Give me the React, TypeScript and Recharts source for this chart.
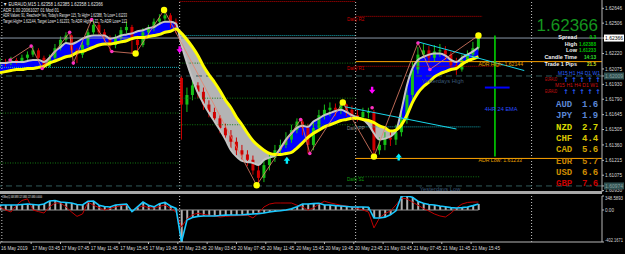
import React from 'react';
import {
  ComposedChart, Bar, Line, Area, Scatter, XAxis, YAxis, ReferenceLine, ReferenceDot,
} from 'recharts';

// EURAUD M15, 16-21 May 2019. One row per 3 M15 bars; t = bar index from the left edge.
const openP = [
  1.6212, 1.6214, 1.6213, 1.6216, 1.6214, 1.6218, 1.6221, 1.6225, 1.6218, 1.6210, 1.6218,
  1.6227, 1.6235, 1.6239, 1.6225, 1.6221, 1.6230, 1.6242, 1.6249, 1.6242, 1.6237, 1.6230,
  1.6237, 1.6244, 1.6247, 1.6235, 1.6230, 1.6242, 1.6246, 1.6252, 1.6255, 1.6258, 1.6252,
  1.6199, 1.6174, 1.6183, 1.6192, 1.6186, 1.6174, 1.6167, 1.6161, 1.6152, 1.6145, 1.6139,
  1.6131, 1.6127, 1.6122, 1.6112, 1.6105, 1.6117, 1.6124, 1.6131, 1.6136, 1.6141, 1.6150,
  1.6158, 1.6152, 1.6136, 1.6152, 1.6164, 1.6169, 1.6171, 1.6169, 1.6174, 1.6169, 1.6164,
  1.6162, 1.6167, 1.6167, 1.6131, 1.6136, 1.6143, 1.6141, 1.6148, 1.6160, 1.6183, 1.6207,
  1.6221, 1.6225, 1.6218, 1.6224, 1.6225, 1.6221, 1.6211, 1.6207, 1.6216, 1.6221, 1.6227,
];
const closeP = [
  1.6214, 1.6213, 1.6216, 1.6214, 1.6218, 1.6221, 1.6225, 1.6218, 1.6210, 1.6218, 1.6227,
  1.6235, 1.6239, 1.6225, 1.6221, 1.6230, 1.6242, 1.6249, 1.6242, 1.6237, 1.6230, 1.6237,
  1.6244, 1.6247, 1.6235, 1.6230, 1.6242, 1.6246, 1.6252, 1.6255, 1.6258, 1.6252, 1.6247,
  1.6174, 1.6183, 1.6192, 1.6186, 1.6174, 1.6167, 1.6161, 1.6152, 1.6145, 1.6139, 1.6131,
  1.6127, 1.6122, 1.6112, 1.6105, 1.6117, 1.6124, 1.6131, 1.6136, 1.6141, 1.6150, 1.6158,
  1.6152, 1.6136, 1.6152, 1.6164, 1.6169, 1.6171, 1.6169, 1.6174, 1.6169, 1.6164, 1.6162,
  1.6167, 1.6167, 1.6131, 1.6136, 1.6143, 1.6141, 1.6148, 1.6160, 1.6183, 1.6207, 1.6221,
  1.6225, 1.6218, 1.6224, 1.6225, 1.6221, 1.6211, 1.6207, 1.6216, 1.6221, 1.6227, 1.6237,
];
const highP = [
  1.6218, 1.6217, 1.6219, 1.6218, 1.6221, 1.6224, 1.6229, 1.6227, 1.6220, 1.6221, 1.6231,
  1.6238, 1.6242, 1.6240, 1.6227, 1.6233, 1.6245, 1.6254, 1.6252, 1.6245, 1.6239, 1.6240,
  1.6247, 1.6252, 1.6249, 1.6239, 1.6246, 1.6249, 1.6255, 1.6259, 1.6263, 1.6260, 1.6255,
  1.6201, 1.6190, 1.6198, 1.6195, 1.6190, 1.6178, 1.6171, 1.6164, 1.6156, 1.6150, 1.6143,
  1.6136, 1.6131, 1.6126, 1.6117, 1.6122, 1.6129, 1.6136, 1.6141, 1.6148, 1.6155, 1.6161,
  1.6160, 1.6156, 1.6158, 1.6169, 1.6174, 1.6176, 1.6175, 1.6176, 1.6175, 1.6173, 1.6169,
  1.6171, 1.6171, 1.6169, 1.6143, 1.6148, 1.6150, 1.6155, 1.6167, 1.6190, 1.6214, 1.6228,
  1.6231, 1.6229, 1.6230, 1.6231, 1.6229, 1.6224, 1.6218, 1.6221, 1.6225, 1.6233, 1.6239,
];
const lowP = [
  1.6209, 1.6210, 1.6211, 1.6212, 1.6213, 1.6216, 1.6219, 1.6215, 1.6208, 1.6209, 1.6216,
  1.6225, 1.6232, 1.6220, 1.6213, 1.6218, 1.6228, 1.6240, 1.6239, 1.6233, 1.6224, 1.6227,
  1.6234, 1.6241, 1.6222, 1.6225, 1.6228, 1.6239, 1.6243, 1.6249, 1.6253, 1.6246, 1.6241,
  1.6141, 1.6167, 1.6178, 1.6180, 1.6169, 1.6162, 1.6157, 1.6147, 1.6140, 1.6133, 1.6126,
  1.6122, 1.6116, 1.6108, 1.6097, 1.6101, 1.6112, 1.6120, 1.6127, 1.6133, 1.6138, 1.6147,
  1.6145, 1.6128, 1.6131, 1.6148, 1.6160, 1.6163, 1.6163, 1.6165, 1.6163, 1.6160, 1.6158,
  1.6159, 1.6161, 1.6124, 1.6127, 1.6131, 1.6135, 1.6136, 1.6144, 1.6156, 1.6178, 1.6203,
  1.6218, 1.6213, 1.6214, 1.6219, 1.6216, 1.6207, 1.6202, 1.6205, 1.6213, 1.6218, 1.6225,
];
// yellow slow average and the faster average that bounds the blue / grey band
const slowMa = [
  1.6204, 1.6205, 1.6206, 1.6207, 1.6207, 1.6208, 1.6208, 1.6209, 1.6210, 1.6213, 1.6215,
  1.6217, 1.6219, 1.6220, 1.6223, 1.6224, 1.6226, 1.6228, 1.6230, 1.6231, 1.6231, 1.6232,
  1.6233, 1.6234, 1.6236, 1.6237, 1.6237, 1.6238, 1.6239, 1.6240, 1.6242, 1.6243, 1.6245,
  1.6241, 1.6235, 1.6228, 1.6220, 1.6210, 1.6202, 1.6195, 1.6187, 1.6178, 1.6171, 1.6162,
  1.6155, 1.6147, 1.6140, 1.6135, 1.6131, 1.6128, 1.6127, 1.6127, 1.6128, 1.6129, 1.6133,
  1.6138, 1.6143, 1.6147, 1.6150, 1.6153, 1.6155, 1.6157, 1.6159, 1.6160, 1.6161, 1.6161,
  1.6160, 1.6159, 1.6157, 1.6154, 1.6152, 1.6149, 1.6150, 1.6155, 1.6164, 1.6176, 1.6185,
  1.6191, 1.6195, 1.6200, 1.6203, 1.6205, 1.6207, 1.6208, 1.6212, 1.6215, 1.6217, 1.6219,
];
const fastMa = [
  1.6213, 1.6213, 1.6214, 1.6214, 1.6214, 1.6215, 1.6216, 1.6216, 1.6214, 1.6218, 1.6224,
  1.6228, 1.6232, 1.6231, 1.6233, 1.6236, 1.6238, 1.6239, 1.6239, 1.6239, 1.6236, 1.6237,
  1.6239, 1.6240, 1.6241, 1.6243, 1.6244, 1.6246, 1.6247, 1.6250, 1.6252, 1.6252, 1.6250,
  1.6230, 1.6213, 1.6198, 1.6185, 1.6175, 1.6166, 1.6158, 1.6150, 1.6141, 1.6131, 1.6125,
  1.6121, 1.6120, 1.6119, 1.6117, 1.6122, 1.6124, 1.6126, 1.6133, 1.6141, 1.6147, 1.6152,
  1.6154, 1.6153, 1.6158, 1.6161, 1.6164, 1.6166, 1.6168, 1.6169, 1.6167, 1.6164, 1.6162,
  1.6160, 1.6155, 1.6147, 1.6141, 1.6142, 1.6144, 1.6149, 1.6169, 1.6192, 1.6208, 1.6216,
  1.6219, 1.6221, 1.6222, 1.6222, 1.6220, 1.6216, 1.6214, 1.6218, 1.6221, 1.6224, 1.6228,
];
// lower window oscillator
const cmiMain = [
  63, 63, 63, 63, 70, 75, 70, 63, 75, 113, 120,
  100, 95, 88, 70, 63, 110, 113, 60, 45, 38, 63,
  70, 75, -20, 40, 100, 60, 40, 80, 95, 50, 20,
  -402, -126, -95, -80, -75, -75, -75, -70, -65, -63, -63,
  -60, -55, -50, -45, -38, -25, -15, -10, 0, 15, 40,
  75, 75, 80, 85, 63, 63, 55, 50, 45, 38, 38,
  38, 35, -100, -100, -90, -60, -10, 176, 176, 160, 110,
  85, 70, 63, 50, 40, 30, 25, 30, 38, 55, 75,
];
const cmiSignal = [
  38, 0, -25, 60, 120, 140, 0, -20, -38, 40, 88,
  88, 40, -25, -80, -50, 100, 60, 30, 0, 20, 38,
  55, 63, -13, 30, 50, 30, 25, 45, 63, 20, -25,
  -215, -110, -60, -40, -55, -65, -75, -88, -80, -75, -72,
  -70, -65, -100, -40, 38, 75, 88, 88, 88, 88, 60,
  38, 0, 25, 75, 110, 90, 75, 60, 50, 38, 20,
  0, -25, -225, -100, -45, -13, 63, 150, 140, 100, 60,
  20, -13, -50, -75, -88, -40, 25, 75, 95, 100, 100,
];

// zigzag pivots (bar index, price, large yellow marker)
const pivotBars = [5.5, 17, 23, 38, 40, 50, 61, 74, 89.5, 140, 164, 169, 187, 204, 228, 234.5, 261];
const pivotPrices = [1.6216, 1.6229, 1.6208, 1.6242, 1.6213, 1.6254, 1.6224, 1.6222, 1.6263, 1.6098, 1.616, 1.6128, 1.6176, 1.6125, 1.6232, 1.6207, 1.6239];
const pivotMajor = [false, false, false, false, false, false, false, true, true, true, false, false, true, true, false, false, true];

const downArrowBars = [98, 203];
const downArrowPrices = [1.6225, 1.6187];
const upArrowBars = [156.5, 217.5];
const upArrowPrices = [1.6122, 1.6125];

const timeTicks = [0, 17, 33, 49, 65, 81, 97, 113, 129, 145, 161, 177, 193, 209, 225, 241, 257];
const timeLabels = [
  '16 May 2019', '17 May 03:45', '17 May 07:45', '17 May 11:45', '17 May 15:45', '17 May 19:45',
  '17 May 23:45', '20 May 03:45', '20 May 07:45', '20 May 11:45', '20 May 15:45', '20 May 19:45',
  '20 May 23:45', '21 May 03:45', '21 May 07:45', '21 May 11:45', '21 May 15:45',
];
const dayBreaks = [1, 98, 194, 290];

const priceTicks = [1.62646, 1.62506, 1.62366, 1.6222, 1.62075, 1.6193, 1.6179, 1.61645, 1.61505, 1.6136, 1.61215, 1.61075, 1.6093];
const BID = 1.62366;
const YDAY_HIGH = 1.62009;
const YDAY_LOW = 1.60974;
const ADR_HIGH = 1.62144;
const ADR_LOW = 1.61233;

const oscTicks = [176, 0, -402.1671];
const oscTickLabels = ['348.5893', '0.00', '-402.1671'];

const strengthCcy = ['AUD', 'JPY', 'NZD', 'CHF', 'CAD', 'EUR', 'USD', 'GBP'];
const strengthVal = ['1.6', '1.9', '2.7', '4.4', '5.6', '5.7', '6.6', '7.6'];
const strengthCol = ['#5b86d6', '#5b86d6', '#d8d800', '#d8c400', '#d0a400', '#c88400', '#d08c00', '#c80000'];

const rows = openP.map((o, i) => {
  const slow = slowMa[i];
  const fast = fastMa[i];
  return {
    t: i * 3,
    o, h: highP[i], l: lowP[i], c: closeP[i],
    slow, fast,
    up: [slow, Math.max(slow, fast)],
    dn: [Math.min(slow, fast), slow],
    cmi: cmiMain[i],
    sig: cmiSignal[i],
  };
});
const pivots = pivotBars.map((t, i) => ({ t, p: pivotPrices[i], major: pivotMajor[i] }));
const downArrows = downArrowBars.map((t, i) => ({ t, p: downArrowPrices[i] }));
const upArrows = upArrowBars.map((t, i) => ({ t, p: upArrowPrices[i] }));

const X_DOMAIN: [number, number] = [0, 328.4];
const FONT = 'Liberation Sans, Arial, sans-serif';
const AXIS = '#b8b8b8';

function Candle(props: any) {
  const { x, y, width, height, payload } = props;
  if (!payload || y == null) return null;
  const top = Math.min(y, y + height);
  const hh = Math.abs(height);
  const span = payload.h - payload.l || 1;
  const py = (v: number) => top + ((payload.h - v) / span) * hh;
  const col = payload.c >= payload.o ? '#16c016' : '#d00000';
  const cx = x + width / 2;
  const b1 = py(Math.max(payload.o, payload.c));
  const b2 = py(Math.min(payload.o, payload.c));
  return (
    <g>
      <line x1={cx} x2={cx} y1={top} y2={top + hh} stroke={col} strokeWidth={1} />
      <rect x={cx - 1.5} y={b1} width={3} height={Math.max(1, b2 - b1)} fill={col} />
    </g>
  );
}

function PivotDot(props: any) {
  const { cx, cy, payload } = props;
  if (payload.major) return <circle cx={cx} cy={cy} r={3.2} fill="#ffff00" />;
  return <circle cx={cx} cy={cy} r={1.8} fill="#ff30c0" />;
}

function DownArrow(props: any) {
  const { cx, cy } = props;
  return <path d={`M${cx - 1.2},${cy - 4} h2.4 v3 h2 l-3.2,4 l-3.2,-4 h2 z`} fill="#ff00ff" />;
}

function UpArrow(props: any) {
  const { cx, cy } = props;
  return <path d={`M${cx - 1.2},${cy + 4} h2.4 v-3 h2 l-3.2,-4 l-3.2,4 h2 z`} fill="#00f0ff" />;
}

const tag = (text: string, color: string, size: number) => (p: any) => (
  <text x={p.cx} y={p.cy} fill={color} fontSize={size} fontFamily={FONT} dominantBaseline="middle">{text}</text>
);

function PriceTick(props: any) {
  const { x, y, payload } = props;
  const v = payload.value;
  const label = v.toFixed(5);
  if (v === BID) {
    return (
      <g>
        <rect x={x - 1} y={y - 3.5} width={20} height={7} fill="#ffffff" />
        <text x={x} y={y} dy={1.8} fontSize={4.8} fontFamily={FONT} fill="#000" textLength={18} lengthAdjust="spacingAndGlyphs">{label}</text>
      </g>
    );
  }
  if (v === YDAY_HIGH || v === YDAY_LOW) {
    return (
      <g>
        <rect x={x - 1} y={y - 3.5} width={20} height={7} fill="#2f5050" />
        <text x={x} y={y} dy={1.8} fontSize={4.8} fontFamily={FONT} fill="#8aa0a0" textLength={18} lengthAdjust="spacingAndGlyphs">{label}</text>
      </g>
    );
  }
  return <text x={x} y={y} dy={1.8} fontSize={4.8} fontFamily={FONT} fill="#d8d8d8" textLength={17} lengthAdjust="spacingAndGlyphs">{label}</text>;
}

function OscTick(props: any) {
  const { x, y, payload } = props;
  const label = oscTickLabels[oscTicks.indexOf(payload.value)];
  const dy = payload.value > 0 ? 3.5 : payload.value < 0 ? -0.5 : 1.8;
  return <text x={x} y={y} dy={dy} fontSize={4.6} fontFamily={FONT} fill="#d8d8d8" textLength={label.length > 5 ? 18 : 9} lengthAdjust="spacingAndGlyphs">{label}</text>;
}

function TimeTick(props: any) {
  const { x, y, payload } = props;
  const label = timeLabels[timeTicks.indexOf(payload.value)];
  return <text x={x + 1} y={y + 4} fontSize={4.6} fontFamily={FONT} fill="#d8d8d8">{label}</text>;
}

function MainPanel() {
  return (
    <ComposedChart width={625} height={192} data={rows} margin={{ top: 0, right: 0, bottom: 0, left: 0 }}>
      <XAxis type="number" dataKey="t" domain={X_DOMAIN} hide allowDataOverflow />
      <YAxis
        orientation="right" width={23} domain={[1.60917, 1.62724]} allowDataOverflow
        ticks={[...priceTicks, YDAY_HIGH, YDAY_LOW]} interval={0} tick={<PriceTick />}
        tickSize={2} tickMargin={1} axisLine={{ stroke: AXIS }} tickLine={{ stroke: AXIS }}
      />
      {dayBreaks.map((b) => (
        <ReferenceLine key={b} x={b} stroke="#c8c8c8" strokeDasharray="1 2" />
      ))}
      <ReferenceLine y={YDAY_HIGH} stroke="#2f5a5a" strokeDasharray="6 4" />
      <ReferenceLine y={YDAY_LOW} stroke="#2f5a5a" strokeDasharray="6 4" />
      <ReferenceLine segment={[{ x: 0, y: 1.6209 }, { x: 98, y: 1.6209 }]} stroke="#14a8b4" strokeDasharray="1 1" />
      <ReferenceLine segment={[{ x: 98, y: 1.6239 }, { x: 194, y: 1.6239 }]} stroke="#14a8b4" strokeDasharray="1 1" />
      <ReferenceLine segment={[{ x: 0, y: 1.6166 }, { x: 98, y: 1.6166 }]} stroke="#127a12" strokeDasharray="1 1.5" />
      <ReferenceLine segment={[{ x: 0, y: 1.6119 }, { x: 98, y: 1.6119 }]} stroke="#127a12" strokeDasharray="1 1.5" />
      <ReferenceLine segment={[{ x: 98, y: 1.6213 }, { x: 194, y: 1.6213 }]} stroke="#127a12" strokeDasharray="1 1.5" />
      <ReferenceLine segment={[{ x: 98, y: 1.618 }, { x: 194, y: 1.618 }]} stroke="#127a12" strokeDasharray="1 1.5" />
      <ReferenceLine segment={[{ x: 98, y: 1.6155 }, { x: 194, y: 1.6155 }]} stroke="#127a12" strokeDasharray="1 1.5" />
      <ReferenceLine segment={[{ x: 98, y: 1.6271 }, { x: 194, y: 1.6271 }]} stroke="#c00000" strokeDasharray="1 1" />
      <ReferenceLine segment={[{ x: 194, y: 1.6257 }, { x: 263, y: 1.6257 }]} stroke="#c00000" strokeDasharray="1 1" />
      <ReferenceLine segment={[{ x: 194, y: 1.621 }, { x: 273, y: 1.621 }]} stroke="#c00000" strokeDasharray="1 1" />
      <ReferenceLine segment={[{ x: 194, y: 1.6153 }, { x: 262, y: 1.6153 }]} stroke="#14a8b4" strokeDasharray="1 1" />
      <ReferenceLine segment={[{ x: 194, y: 1.6106 }, { x: 262, y: 1.6106 }]} stroke="#127a12" strokeDasharray="1 1.5" />
      <ReferenceLine segment={[{ x: 194, y: ADR_HIGH }, { x: 328.4, y: ADR_HIGH }]} stroke="#ffa500" />
      <ReferenceLine segment={[{ x: 194, y: ADR_LOW }, { x: 328.4, y: ADR_LOW }]} stroke="#ffa500" />
      <ReferenceLine y={BID} stroke="#8a97a8" />

      <Area type="monotone" dataKey="dn" stroke="none" fill="#b4b4b4" fillOpacity={1} dot={false} activeDot={false} isAnimationActive={false} />
      <Area type="monotone" dataKey="up" stroke="none" fill="#0000ff" fillOpacity={1} dot={false} activeDot={false} isAnimationActive={false} />
      <Bar dataKey={(d: any) => [d.l, d.h]} barSize={3} shape={<Candle />} activeBar={false} isAnimationActive={false} />
      <Line type="monotone" dataKey="fast" stroke="#c4c4c4" strokeWidth={2} dot={false} activeDot={false} isAnimationActive={false} />
      <Line type="monotone" dataKey="slow" stroke="#ffff00" strokeWidth={3} dot={false} activeDot={false} isAnimationActive={false} />

      <Scatter data={pivots} dataKey="p" line={{ stroke: '#e8826a', strokeWidth: 0.8 }} shape={<PivotDot />} isAnimationActive={false} />
      <ReferenceDot x={203} y={1.6171} r={1.8} fill="#ff30c0" stroke="none" />
      <Scatter data={downArrows} dataKey="p" shape={<DownArrow />} isAnimationActive={false} />
      <Scatter data={upArrows} dataKey="p" shape={<UpArrow />} isAnimationActive={false} />

      <ReferenceLine segment={[{ x: 188, y: 1.6172 }, { x: 249, y: 1.6151 }]} stroke="#18d8ec" />
      <ReferenceLine segment={[{ x: 228, y: 1.6233 }, { x: 286, y: 1.6206 }]} stroke="#18d8ec" />
      <ReferenceLine segment={[{ x: 270, y: 1.6239 }, { x: 270, y: 1.6125 }]} stroke="#00e000" strokeWidth={1.5} />
      <ReferenceLine segment={[{ x: 264.5, y: 1.619 }, { x: 278, y: 1.619 }]} stroke="#0000ff" strokeWidth={2} />

      <ReferenceDot x={189.3} y={1.6254} shape={tag('Daily R2', '#d00000', 4.6)} />
      <ReferenceDot x={189.3} y={1.6208} shape={tag('Daily R1', '#d00000', 4.6)} />
      <ReferenceDot x={189.3} y={1.6151} shape={tag('Daily PP', '#8a8a8a', 4.6)} />
      <ReferenceDot x={189.3} y={1.6103} shape={tag('Daily S1', '#10a010', 4.6)} />
      <ReferenceDot x={230} y={1.6196} shape={tag('Yesterdays High', '#3a5878', 5.8)} />
      <ReferenceDot x={229} y={1.6094} shape={tag('Yesterdays Low', '#3a5878', 5.8)} />
      <ReferenceDot x={261} y={1.6212} shape={tag('ADR High: 1.62144', '#e8a000', 5.2)} />
      <ReferenceDot x={261} y={1.6121} shape={tag('ADR Low: 1.61233', '#e8a000', 5.2)} />
      <ReferenceDot x={264.5} y={1.6169} shape={tag('4HR 24 EMA', '#2a4cff', 5.6)} />
    </ComposedChart>
  );
}

function OscPanel() {
  return (
    <ComposedChart width={625} height={60} data={rows} margin={{ top: 2, right: 0, bottom: 0, left: 0 }}>
      <XAxis
        type="number" dataKey="t" domain={X_DOMAIN} allowDataOverflow height={12}
        ticks={timeTicks} interval={0} tick={<TimeTick />} tickSize={2}
        axisLine={{ stroke: AXIS }} tickLine={{ stroke: AXIS }}
      />
      <YAxis
        orientation="right" width={23} domain={[-402.1671, 176]} allowDataOverflow
        ticks={oscTicks} interval={0} tick={<OscTick />} tickSize={2} tickMargin={1}
        axisLine={{ stroke: AXIS }} tickLine={{ stroke: AXIS }}
      />
      {dayBreaks.map((b) => (
        <ReferenceLine key={b} x={b} stroke="#c8c8c8" strokeDasharray="1 2" />
      ))}
      <ReferenceLine segment={[{ x: 0, y: 0 }, { x: 261, y: 0 }]} stroke="#9a9a9a" />
      <Bar dataKey="cmi" barSize={2} fill="#b0b0b0" activeBar={false} isAnimationActive={false} />
      <Line type="linear" dataKey="sig" stroke="#c00000" strokeWidth={1} dot={false} activeDot={false} isAnimationActive={false} />
      <Line type="linear" dataKey="cmi" stroke="#18c8ff" strokeWidth={1.6} dot={false} activeDot={false} isAnimationActive={false} />
    </ComposedChart>
  );
}

function Overlay() {
  return (
    <svg width={625} height={254} style={{ position: 'absolute', left: 0, top: 0, pointerEvents: 'none' }}>
      <g fontFamily={FONT} fill="#e6e6e6">
        <text x={3} y={6} fontSize={5.2} textLength={100} lengthAdjust="spacingAndGlyphs">▼ EURAUD,M15  1.62358 1.62385 1.62358 1.62366</text>
        <text x={3} y={11.5} fontSize={5.2} textLength={56} lengthAdjust="spacingAndGlyphs">ADR 1.00 20061027 01 Mod 01</text>
        <text x={3} y={17} fontSize={5.2} textLength={124} lengthAdjust="spacingAndGlyphs">ADR Values: 91, Reached= Yes, Today's Range= 115, To High= 1.62388, To Low= 1.61233</text>
        <text x={3} y={22.5} fontSize={5.2} textLength={124} lengthAdjust="spacingAndGlyphs">Target High= 1.62144, Target Low= 1.61233, To ADR High= -22, To ADR Low= 113</text>
        <text x={2} y={198} fontSize={4.4} textLength={40} lengthAdjust="spacingAndGlyphs">CMIex(C) 348.5893 127.0865 127.0865 0.0000</text>
      </g>

      <text x={598} y={30.5} fontSize={17} fontFamily={FONT} fill="#14961e" textAnchor="end">1.62366</text>
      <g fontFamily={FONT} fontSize={5.5} fontWeight="bold" fill="#f0f0f0" textAnchor="end">
        <text x={577} y={38.5}>Spread</text>
        <text x={577} y={45.5}>High</text>
        <text x={577} y={52}>Low</text>
        <text x={577} y={59}>Candle Time</text>
        <text x={577} y={65.5}>Trade 1 Pips</text>
      </g>
      <g fontFamily={FONT} fontSize={4.7} fontWeight="bold" textAnchor="end">
        <text x={596} y={38.5} fill="#00d400">0.3</text>
        <text x={596} y={45.5} fill="#00c000">1.62388</text>
        <text x={596} y={52} fill="#00c000">1.61233</text>
        <text x={596} y={59} fill="#30e030">14:13</text>
        <text x={596} y={65.5} fill="#c8e020">21.5</text>
      </g>
      <g fontFamily={FONT} fontSize={4.6}>
        <text x={558} y={75} fill="#2a62ff" textLength={42} lengthAdjust="spacingAndGlyphs">M15 H1 H4 D1 W1</text>
        <text x={545} y={81} fill="#d01010" textLength={12} lengthAdjust="spacingAndGlyphs">EURAUD</text>
        <text x={555} y={87} fill="#d01010" textLength={43} lengthAdjust="spacingAndGlyphs">M15 H1 H4 D1 W1</text>
        <text x={545} y={92.5} fill="#d01010" textLength={12} lengthAdjust="spacingAndGlyphs">EURAUD</text>
      </g>
      <g fontFamily="DejaVu Sans, sans-serif" fontSize={6.5} fontWeight="bold" fill="#2a62ff" textAnchor="middle">
        {[566, 574, 582, 590, 598].map((x) => (
          <React.Fragment key={x}>
            <text x={x} y={82}>↑</text>
            <text x={x} y={93.5}>↑</text>
          </React.Fragment>
        ))}
      </g>
      <g fontFamily="Liberation Mono, DejaVu Sans Mono, monospace" fontSize={9} fontWeight="bold">
        {strengthCcy.map((c, i) => (
          <React.Fragment key={c}>
            <text x={556} y={107 + i * 11.3} fill={strengthCol[i]}>{c}</text>
            <text x={582} y={107 + i * 11.3} fill={strengthCol[i]}>{strengthVal[i]}</text>
          </React.Fragment>
        ))}
      </g>
    </svg>
  );
}

export default function App() {
  return (
    <div style={{ position: 'absolute', left: 0, top: 0, width: 625, height: 254, background: '#000', overflow: 'hidden' }}>
      <div style={{ position: 'absolute', left: 0, top: 0 }}>
        <MainPanel />
      </div>
      <div style={{ position: 'absolute', left: 0, top: 191, width: 602, height: 3, background: '#a8a8a8' }} />
      <div style={{ position: 'absolute', left: 0, top: 194 }}>
        <OscPanel />
      </div>
      <Overlay />
    </div>
  );
}
